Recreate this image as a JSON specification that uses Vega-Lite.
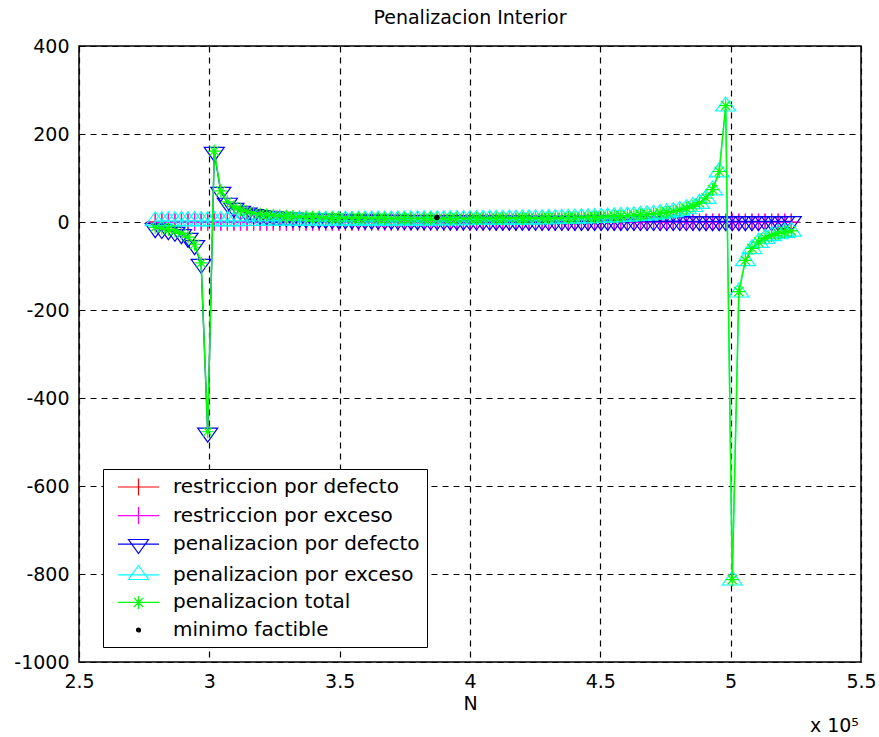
{
  "$schema": "https://vega.github.io/schema/vega-lite/v6.json",
  "width": 782,
  "height": 616,
  "autosize": {"type": "none"},
  "padding": {"left": 79, "top": 46, "right": 18, "bottom": 75},
  "background": "white",
  "title": {"text": "Penalizacion Interior", "font": "DejaVu Sans", "fontSize": 19, "fontWeight": "normal", "color": "black", "anchor": "middle", "offset": 9},
  "config": {
    "view": {"stroke": "black", "strokeWidth": 1.5},
    "axis": {"grid": true, "gridColor": "black", "gridDash": [6, 5], "gridWidth": 1.2, "gridOpacity": 1, "domain": false, "ticks": false, "labelFont": "DejaVu Sans", "labelFontSize": 19, "labelColor": "black", "titleFont": "DejaVu Sans", "titleFontSize": 19, "titleFontWeight": "normal", "titleColor": "black"}
  },
  "datasets": {
    "pen": [
      {"N":279250,"rd":0.069,"re":-0.442,"pd":-14.46,"pe":2.27,"pt":-12.19},
      {"N":281766,"rd":0.061,"re":-0.436,"pd":-16.45,"pe":2.29,"pt":-14.16},
      {"N":284281,"rd":0.052,"re":-0.431,"pd":-19.09,"pe":2.32,"pt":-16.77},
      {"N":286797,"rd":0.044,"re":-0.426,"pd":-22.72,"pe":2.35,"pt":-20.38},
      {"N":289312,"rd":0.036,"re":-0.421,"pd":-28.07,"pe":2.37,"pt":-25.70},
      {"N":291828,"rd":0.027,"re":-0.416,"pd":-36.71,"pe":2.40,"pt":-34.31},
      {"N":294343,"rd":0.019,"re":-0.411,"pd":-53.03,"pe":2.43,"pt":-50.60},
      {"N":296859,"rd":0.010,"re":-0.406,"pd":-95.50,"pe":2.46,"pt":-93.04},
      {"N":299374,"rd":0.002,"re":-0.401,"pd":-479.23,"pe":2.49,"pt":-476.74},
      {"N":301890,"rd":-0.006,"re":-0.396,"pd":158.77,"pe":2.52,"pt":161.29},
      {"N":304405,"rd":-0.015,"re":-0.391,"pd":68.10,"pe":2.56,"pt":70.66},
      {"N":306921,"rd":-0.023,"re":-0.386,"pd":43.35,"pe":2.59,"pt":45.94},
      {"N":309436,"rd":-0.031,"re":-0.381,"pd":31.79,"pe":2.62,"pt":34.42},
      {"N":311952,"rd":-0.040,"re":-0.376,"pd":25.10,"pe":2.66,"pt":27.76},
      {"N":314467,"rd":-0.048,"re":-0.371,"pd":20.74,"pe":2.70,"pt":23.43},
      {"N":316983,"rd":-0.057,"re":-0.366,"pd":17.67,"pe":2.73,"pt":20.40},
      {"N":319498,"rd":-0.065,"re":-0.361,"pd":15.39,"pe":2.77,"pt":18.16},
      {"N":322014,"rd":-0.073,"re":-0.356,"pd":13.63,"pe":2.81,"pt":16.44},
      {"N":324529,"rd":-0.082,"re":-0.351,"pd":12.23,"pe":2.85,"pt":15.08},
      {"N":327045,"rd":-0.090,"re":-0.346,"pd":11.09,"pe":2.89,"pt":13.98},
      {"N":329560,"rd":-0.099,"re":-0.341,"pd":10.15,"pe":2.93,"pt":13.08},
      {"N":332076,"rd":-0.107,"re":-0.336,"pd":9.35,"pe":2.98,"pt":12.33},
      {"N":334591,"rd":-0.115,"re":-0.331,"pd":8.67,"pe":3.02,"pt":11.70},
      {"N":337107,"rd":-0.124,"re":-0.326,"pd":8.09,"pe":3.07,"pt":11.15},
      {"N":339622,"rd":-0.132,"re":-0.321,"pd":7.57,"pe":3.12,"pt":10.69},
      {"N":342138,"rd":-0.140,"re":-0.316,"pd":7.12,"pe":3.17,"pt":10.29},
      {"N":344653,"rd":-0.149,"re":-0.311,"pd":6.72,"pe":3.22,"pt":9.94},
      {"N":347169,"rd":-0.157,"re":-0.306,"pd":6.36,"pe":3.27,"pt":9.63},
      {"N":349684,"rd":-0.166,"re":-0.301,"pd":6.04,"pe":3.33,"pt":9.36},
      {"N":352200,"rd":-0.174,"re":-0.296,"pd":5.75,"pe":3.38,"pt":9.13},
      {"N":354715,"rd":-0.182,"re":-0.291,"pd":5.48,"pe":3.44,"pt":8.92},
      {"N":357231,"rd":-0.191,"re":-0.286,"pd":5.24,"pe":3.50,"pt":8.74},
      {"N":359746,"rd":-0.199,"re":-0.281,"pd":5.02,"pe":3.57,"pt":8.59},
      {"N":362262,"rd":-0.208,"re":-0.275,"pd":4.82,"pe":3.63,"pt":8.45},
      {"N":364777,"rd":-0.216,"re":-0.270,"pd":4.63,"pe":3.70,"pt":8.33},
      {"N":367293,"rd":-0.224,"re":-0.265,"pd":4.46,"pe":3.77,"pt":8.23},
      {"N":369808,"rd":-0.233,"re":-0.260,"pd":4.30,"pe":3.84,"pt":8.14},
      {"N":372324,"rd":-0.241,"re":-0.255,"pd":4.15,"pe":3.92,"pt":8.06},
      {"N":374839,"rd":-0.250,"re":-0.250,"pd":4.01,"pe":4.00,"pt":8.00},
      {"N":377355,"rd":-0.258,"re":-0.245,"pd":3.88,"pe":4.08,"pt":7.96},
      {"N":379870,"rd":-0.266,"re":-0.240,"pd":3.76,"pe":4.16,"pt":7.92},
      {"N":382386,"rd":-0.275,"re":-0.235,"pd":3.64,"pe":4.25,"pt":7.89},
      {"N":384901,"rd":-0.283,"re":-0.230,"pd":3.53,"pe":4.34,"pt":7.88},
      {"N":387417,"rd":-0.291,"re":-0.225,"pd":3.43,"pe":4.44,"pt":7.87},
      {"N":389932,"rd":-0.300,"re":-0.220,"pd":3.34,"pe":4.54,"pt":7.88},
      {"N":392448,"rd":-0.308,"re":-0.215,"pd":3.25,"pe":4.65,"pt":7.89},
      {"N":394963,"rd":-0.317,"re":-0.210,"pd":3.16,"pe":4.76,"pt":7.92},
      {"N":397479,"rd":-0.325,"re":-0.205,"pd":3.08,"pe":4.88,"pt":7.95},
      {"N":399994,"rd":-0.333,"re":-0.200,"pd":3.00,"pe":5.00,"pt":8.00},
      {"N":402510,"rd":-0.342,"re":-0.195,"pd":2.93,"pe":5.13,"pt":8.06},
      {"N":405025,"rd":-0.350,"re":-0.190,"pd":2.86,"pe":5.26,"pt":8.12},
      {"N":407541,"rd":-0.358,"re":-0.185,"pd":2.79,"pe":5.41,"pt":8.20},
      {"N":410056,"rd":-0.367,"re":-0.180,"pd":2.73,"pe":5.56,"pt":8.29},
      {"N":412572,"rd":-0.375,"re":-0.175,"pd":2.67,"pe":5.72,"pt":8.38},
      {"N":415087,"rd":-0.384,"re":-0.170,"pd":2.61,"pe":5.89,"pt":8.50},
      {"N":417603,"rd":-0.392,"re":-0.165,"pd":2.55,"pe":6.07,"pt":8.62},
      {"N":420118,"rd":-0.400,"re":-0.160,"pd":2.50,"pe":6.26,"pt":8.76},
      {"N":422634,"rd":-0.409,"re":-0.155,"pd":2.45,"pe":6.46,"pt":8.91},
      {"N":425149,"rd":-0.417,"re":-0.150,"pd":2.40,"pe":6.68,"pt":9.08},
      {"N":427665,"rd":-0.425,"re":-0.145,"pd":2.35,"pe":6.91,"pt":9.26},
      {"N":430180,"rd":-0.434,"re":-0.140,"pd":2.30,"pe":7.16,"pt":9.47},
      {"N":432696,"rd":-0.442,"re":-0.135,"pd":2.26,"pe":7.43,"pt":9.69},
      {"N":435211,"rd":-0.450,"re":-0.130,"pd":2.22,"pe":7.72,"pt":9.94},
      {"N":437727,"rd":-0.459,"re":-0.125,"pd":2.18,"pe":8.03,"pt":10.21},
      {"N":440242,"rd":-0.467,"re":-0.120,"pd":2.14,"pe":8.37,"pt":10.51},
      {"N":442758,"rd":-0.476,"re":-0.115,"pd":2.10,"pe":8.73,"pt":10.84},
      {"N":445273,"rd":-0.484,"re":-0.109,"pd":2.07,"pe":9.14,"pt":11.20},
      {"N":447789,"rd":-0.493,"re":-0.104,"pd":2.03,"pe":9.58,"pt":11.61},
      {"N":450304,"rd":-0.501,"re":-0.099,"pd":2.00,"pe":10.06,"pt":12.06},
      {"N":452820,"rd":-0.509,"re":-0.094,"pd":1.96,"pe":10.60,"pt":12.56},
      {"N":455335,"rd":-0.518,"re":-0.089,"pd":1.93,"pe":11.19,"pt":13.13},
      {"N":457851,"rd":-0.526,"re":-0.084,"pd":1.90,"pe":11.86,"pt":13.76},
      {"N":460366,"rd":-0.534,"re":-0.079,"pd":1.87,"pe":12.62,"pt":14.49},
      {"N":462882,"rd":-0.543,"re":-0.074,"pd":1.84,"pe":13.47,"pt":15.31},
      {"N":465397,"rd":-0.551,"re":-0.069,"pd":1.81,"pe":14.45,"pt":16.26},
      {"N":467913,"rd":-0.560,"re":-0.064,"pd":1.79,"pe":15.58,"pt":17.37},
      {"N":470428,"rd":-0.568,"re":-0.059,"pd":1.76,"pe":16.91,"pt":18.67},
      {"N":472944,"rd":-0.576,"re":-0.054,"pd":1.73,"pe":18.48,"pt":20.21},
      {"N":475459,"rd":-0.585,"re":-0.049,"pd":1.71,"pe":20.37,"pt":22.08},
      {"N":477975,"rd":-0.593,"re":-0.044,"pd":1.69,"pe":22.70,"pt":24.39},
      {"N":480490,"rd":-0.601,"re":-0.039,"pd":1.66,"pe":25.63,"pt":27.29},
      {"N":483006,"rd":-0.610,"re":-0.034,"pd":1.64,"pe":29.42,"pt":31.06},
      {"N":485521,"rd":-0.618,"re":-0.029,"pd":1.62,"pe":34.53,"pt":36.15},
      {"N":488037,"rd":-0.627,"re":-0.024,"pd":1.60,"pe":41.79,"pt":43.39},
      {"N":490552,"rd":-0.635,"re":-0.019,"pd":1.57,"pe":52.92,"pt":54.50},
      {"N":493068,"rd":-0.643,"re":-0.014,"pd":1.55,"pe":72.12,"pt":73.68},
      {"N":495583,"rd":-0.652,"re":-0.009,"pd":1.53,"pe":113.20,"pt":114.73},
      {"N":498099,"rd":-0.660,"re":-0.004,"pd":1.51,"pe":262.95,"pt":264.46},
      {"N":500614,"rd":-0.669,"re":0.001,"pd":1.50,"pe":-814.33,"pt":-812.83},
      {"N":503130,"rd":-0.677,"re":0.006,"pd":1.48,"pe":-159.77,"pt":-158.29},
      {"N":505645,"rd":-0.685,"re":0.011,"pd":1.46,"pe":-88.57,"pt":-87.12},
      {"N":508161,"rd":-0.694,"re":0.016,"pd":1.44,"pe":-61.27,"pt":-59.83},
      {"N":510676,"rd":-0.702,"re":0.021,"pd":1.42,"pe":-46.83,"pt":-45.41},
      {"N":513192,"rd":-0.711,"re":0.026,"pd":1.41,"pe":-37.90,"pt":-36.50},
      {"N":515707,"rd":-0.719,"re":0.031,"pd":1.39,"pe":-31.83,"pt":-30.44},
      {"N":518223,"rd":-0.727,"re":0.036,"pd":1.38,"pe":-27.44,"pt":-26.06},
      {"N":520738,"rd":-0.736,"re":0.041,"pd":1.36,"pe":-24.11,"pt":-22.75},
      {"N":523254,"rd":-0.744,"re":0.047,"pd":1.34,"pe":-21.50,"pt":-20.16}
    ],
    "minimo": [{"N": 387300, "v": 10}],
    "leg": [{"lab": "none0"}],
    "expo": [{"N": 530400, "v": -1159}]
  },
  "data": {"name": "pen"},
  "transform": [{"fold": ["rd", "re", "pd", "pe", "pt"], "as": ["key", "v"]}],
  "encoding": {
    "x": {"field": "N", "type": "quantitative",
      "scale": {"domain": [250000, 550000], "nice": false, "zero": false},
      "axis": {"values": [250000, 300000, 350000, 400000, 450000, 500000, 550000], "labelExpr": "datum.value / 100000", "title": "N", "labelPadding": 10, "titlePadding": 3, "labelFlush": false}},
    "y": {"field": "v", "type": "quantitative",
      "scale": {"domain": [-1000, 400], "nice": false, "zero": false},
      "axis": {"values": [-1000, -800, -600, -400, -200, 0, 200, 400], "labelExpr": "'' + datum.value", "title": null, "labelPadding": 10, "labelFlush": false}}
  },
  "layer": [
    {"transform": [{"filter": "datum.key == 'rd'"}], "mark": {"type": "line", "color": "#ff0000", "strokeWidth": 1.3}},
    {"transform": [{"filter": "datum.key == 'rd'"}], "mark": {"type": "point", "shape": "M-0.85,0H0.85M0,-0.85V0.85", "color": "#ff0000", "size": 400, "strokeWidth": 1.2, "opacity": 1, "filled": false}},
    {"transform": [{"filter": "datum.key == 're'"}], "mark": {"type": "line", "color": "#ff00ff", "strokeWidth": 1.3}},
    {"transform": [{"filter": "datum.key == 're'"}], "mark": {"type": "point", "shape": "M-0.85,0H0.85M0,-0.85V0.85", "color": "#ff00ff", "size": 400, "strokeWidth": 1.2, "opacity": 1, "filled": false}},
    {"transform": [{"filter": "datum.key == 'pd'"}], "mark": {"type": "line", "color": "#0000ff", "strokeWidth": 1.3}},
    {"transform": [{"filter": "datum.key == 'pd'"}], "mark": {"type": "point", "shape": "M-1,-0.47L1,-0.47L0,0.93Z", "color": "#0000ff", "size": 400, "strokeWidth": 1.2, "opacity": 1, "filled": false}},
    {"transform": [{"filter": "datum.key == 'pe'"}], "mark": {"type": "line", "color": "#00ffff", "strokeWidth": 1.3}},
    {"transform": [{"filter": "datum.key == 'pe'"}], "mark": {"type": "point", "shape": "M-1,0.47L1,0.47L0,-0.93Z", "color": "#00ffff", "size": 400, "strokeWidth": 1.2, "opacity": 1, "filled": false}},
    {"transform": [{"filter": "datum.key == 'pt'"}], "mark": {"type": "line", "color": "#00ff00", "strokeWidth": 1.5}},
    {"transform": [{"filter": "datum.key == 'pt'"}], "mark": {"type": "point", "shape": "M-0.65,0H0.65M0,-0.65V0.65M-0.46,-0.46L0.46,0.46M-0.46,0.46L0.46,-0.46", "color": "#00ff00", "size": 400, "strokeWidth": 1.2, "opacity": 1, "filled": false}},
    {"data": {"name": "minimo"}, "mark": {"type": "point", "shape": "circle", "filled": true, "color": "black", "size": 30, "opacity": 1}},
    {"data": {"name": "expo"}, "mark": {"type": "text", "text": "x 10⁵", "align": "left", "baseline": "alphabetic", "font": "DejaVu Sans", "fontSize": 19, "color": "black"}},
    {"data": {"name": "leg"}, "transform": [{"filter": "datum.lab == 'never'"}],
      "mark": {"type": "point", "opacity": 1, "filled": false, "strokeWidth": 1.2},
      "encoding": {
        "x": {"value": 0}, "y": {"value": 0},
        "color": {"field": "lab", "type": "nominal",
          "scale": {"domain": ["restriccion por defecto", "restriccion por exceso", "penalizacion por defecto", "penalizacion por exceso", "penalizacion total", "minimo factible"],
                    "range": ["#ff0000", "#ff00ff", "#0000ff", "#00ffff", "#00ff00", "#000000"]},
          "legend": {"title": null, "orient": "none", "legendX": 24, "legendY": 423, "strokeColor": "black", "fillColor": "white", "padding": 7, "symbolSize": 400, "symbolStrokeWidth": 1.2, "labelFont": "DejaVu Sans", "labelFontSize": 20, "labelColor": "black", "labelOffset": 41, "labelLimit": 500, "rowPadding": 6.6}},
        "shape": {"field": "lab", "type": "nominal",
          "scale": {"domain": ["restriccion por defecto", "restriccion por exceso", "penalizacion por defecto", "penalizacion por exceso", "penalizacion total", "minimo factible"],
                    "range": ["M-0.3,0H3.8M1.75,-0.85V0.85", "M-0.3,0H3.8M1.75,-0.85V0.85", "M-0.3,0H3.8M0.75,-0.47L2.75,-0.47L1.75,0.93Z", "M-0.3,0H3.8M0.75,0.47L2.75,0.47L1.75,-0.93Z", "M-0.3,0H3.8M1.75,-0.65V0.65M1.29,-0.46L2.21,0.46M1.29,0.46L2.21,-0.46", "M1.55,0A0.2,0.2 0 1,0 1.95,0A0.2,0.2 0 1,0 1.55,0ZM1.67,0A0.08,0.08 0 1,0 1.83,0A0.08,0.08 0 1,0 1.67,0Z"]},
          "legend": {"title": null, "orient": "none", "legendX": 24, "legendY": 423, "strokeColor": "black", "fillColor": "white", "padding": 7, "symbolSize": 400, "symbolStrokeWidth": 1.2, "labelFont": "DejaVu Sans", "labelFontSize": 20, "labelColor": "black", "labelOffset": 41, "labelLimit": 500, "rowPadding": 6.6}}
      }}
  ]
}
